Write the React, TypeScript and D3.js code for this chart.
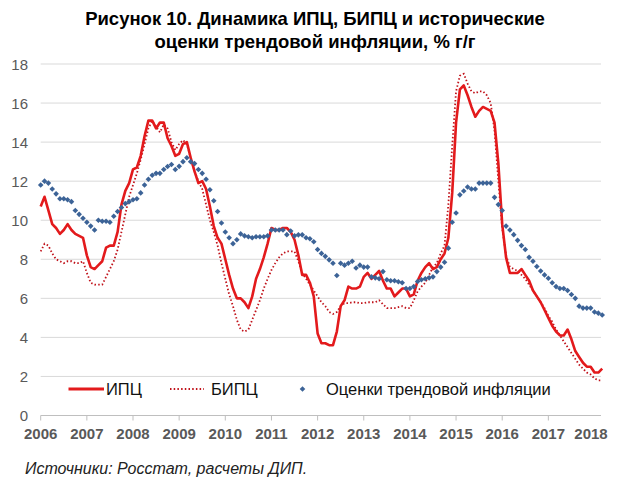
import React from "react";
import * as d3 from "d3";

const years = ["2006","2007","2008","2009","2010","2011","2012","2013","2014","2015","2016","2017","2018"];
const yTicks = [0, 2, 4, 6, 8, 10, 12, 14, 16, 18];

// Monthly values, Jan 2006 .. Mar 2018
const cpi = [
  10.7, 11.2, 10.5, 9.8, 9.6, 9.3, 9.5, 9.8, 9.5, 9.3, 9.2, 9.1,
  8.2, 7.6, 7.5, 7.7, 7.9, 8.6, 8.7, 8.7, 9.4, 10.8, 11.5, 11.9,
  12.6, 12.7, 13.3, 14.3, 15.1, 15.1, 14.7, 15.0, 15.0, 14.2, 13.8, 13.3,
  13.4, 13.9, 14.0, 13.2, 12.5, 11.9, 12.0, 11.6, 10.7, 9.7, 9.1, 8.8,
  8.0, 7.2, 6.5, 6.0, 6.0, 5.8, 5.5, 6.1, 7.0, 7.5, 8.1, 8.8,
  9.6, 9.5, 9.5, 9.6, 9.6, 9.4, 9.0, 8.2, 7.2, 7.2, 6.8, 6.1,
  4.2, 3.7, 3.7, 3.6, 3.6, 4.3, 5.6, 5.9, 6.6, 6.5, 6.5, 6.6,
  7.1, 7.3, 7.0, 7.2, 7.4, 6.9, 6.5, 6.5, 6.1, 6.3, 6.5, 6.5,
  6.1, 6.2, 6.9, 7.3, 7.6, 7.8, 7.5, 7.6, 8.0, 8.3, 9.1, 11.4,
  15.0, 16.7, 16.9, 16.4, 15.8, 15.3, 15.6, 15.8, 15.7, 15.6, 15.0, 12.9,
  9.8, 8.1, 7.3, 7.3, 7.3, 7.5, 7.2, 6.9, 6.4, 6.1, 5.8, 5.4,
  5.0, 4.6, 4.3, 4.1, 4.1, 4.4, 3.9, 3.3, 3.0, 2.7, 2.5, 2.5,
  2.2, 2.2, 2.4,
];

const coreCpi = [
  8.4, 8.8, 8.7, 8.3, 8.0, 7.9, 7.8, 7.9, 7.9, 7.8, 7.8, 7.9,
  7.3, 6.8, 6.7, 6.7, 6.7, 7.1, 7.5, 7.9, 8.5, 9.4, 10.3, 11.2,
  11.8, 12.4, 13.1, 13.9, 14.7, 15.1, 14.8, 14.5, 14.9, 14.7, 14.0, 13.6,
  13.9, 14.1, 13.9, 13.2, 12.5, 12.0, 11.6, 10.8, 10.0, 9.4, 8.7, 7.8,
  7.0, 6.2, 5.6, 4.9, 4.4, 4.3, 4.4, 4.9, 5.4, 5.9, 6.5, 7.0,
  7.45, 7.8, 8.1, 8.3, 8.4, 8.4, 8.4, 7.9, 7.3, 7.0, 6.7, 6.4,
  6.1, 5.8, 5.6, 5.3, 5.2, 5.3, 5.6, 5.75, 5.75, 5.8, 5.8, 5.75,
  5.75, 5.8, 5.8, 5.8, 5.9, 5.7, 5.5, 5.5, 5.5, 5.55, 5.6, 5.5,
  5.5, 5.9, 6.35, 6.6, 6.8, 7.2, 7.6, 7.8, 8.3, 8.7, 10.8, 13.8,
  16.6, 17.4, 17.5, 17.0, 16.6, 16.5, 16.6, 16.6, 16.4, 16.0, 14.6, 12.0,
  9.6, 8.2, 7.6, 7.5, 7.4, 7.2, 7.0, 6.7, 6.4, 6.1, 5.8, 5.5,
  5.1, 4.8, 4.4, 4.1, 3.8, 3.5, 3.2, 2.9, 2.6, 2.4, 2.2, 2.1,
  1.9, 1.8, 1.8,
];

const trend = [
  11.8, 12.0, 11.9, 11.6, 11.35, 11.1, 11.1, 11.05, 10.95, 10.5, 10.3, 10.1,
  9.9, 9.7, 9.5, 10.0, 9.95, 9.95, 9.9, 10.2, 10.45, 10.65, 10.85, 10.95,
  11.05, 11.1, 11.4, 11.8, 12.1, 12.3, 12.4, 12.4, 12.6, 12.75, 12.85, 12.6,
  12.76, 13.0, 13.2, 13.0, 12.9, 12.6, 12.4, 12.1, 11.56, 11.0, 10.45, 9.86,
  9.4, 9.1, 8.8, 9.0, 9.3, 9.2, 9.15, 9.1, 9.15, 9.15, 9.15, 9.2,
  9.5, 9.5, 9.5, 9.5, 9.26, 9.45, 9.2, 9.25, 9.25, 9.1, 9.05, 8.9,
  8.5, 8.3, 8.15, 7.97, 7.8, 7.17, 7.8, 7.7, 7.8, 7.9, 7.55, 7.7,
  7.6, 7.6, 7.1, 7.05, 7.0, 7.37, 6.95, 6.9, 6.9, 6.85, 6.8, 6.5,
  6.5, 6.6, 6.86, 6.95, 7.0, 7.05, 7.1, 7.37, 7.6, 7.85, 8.57, 9.9,
  10.37, 11.3, 11.5, 11.7, 11.6, 11.6, 11.9, 11.9, 11.9, 11.9, 11.17, 10.8,
  10.5, 9.7, 9.5, 9.26, 8.97, 8.7, 8.5, 8.1, 7.9, 7.63, 7.4, 7.2,
  7.03, 6.8, 6.6, 6.5, 6.5, 6.4, 6.2, 6.0, 5.6, 5.5, 5.5, 5.5,
  5.3, 5.24, 5.15,
];

const titleLines = ["Рисунок 10. Динамика ИПЦ, БИПЦ и исторические", "оценки трендовой инфляции, % г/г"];
const legendLabels = ["ИПЦ", "БИПЦ", "Оценки трендовой инфляции"];
const sourceText = "Источники: Росстат, расчеты ДИП.";

const W = 617, H = 484;
const FONT = "'Liberation Sans', Arial, sans-serif";

export default function App() {
  const x = d3.scaleLinear().domain([0, cpi.length - 1]).range([40.7, 602.2]);
  const y = d3.scaleLinear().domain([0, 18]).range([415.5, 64]);
  const line = d3.line<number>().x((_, i) => x(i)).y((d) => y(d));
  const diamond = "M0,-2.8L2.8,0L0,2.8L-2.8,0Z";
  const red = "#e31a1c";
  const darkRed = "#c0121a";
  const blue = "#3c6397";
  const gray = "#595959";
  const legY = 389;

  return (
    <svg width={W} height={H} style={{ position: "fixed", left: 0, top: 0, background: "#fff" }} fontFamily={FONT}>
      <rect width={W} height={H} fill="#fff" />
      {titleLines.map((t, i) => (
        <text key={i} x={315} y={24.5 + i * 23.5} textAnchor="middle" fontSize={18.5} fontWeight="bold" fill="#000">{t}</text>
      ))}
      {yTicks.filter((v) => v > 0).map((v) => (
        <line key={v} x1={40.7} x2={601} y1={y(v)} y2={y(v)} stroke="#d9d9d9" strokeWidth={1} />
      ))}
      <line x1={40.7} x2={601} y1={y(0)} y2={y(0)} stroke="#bfbfbf" strokeWidth={1} />
      {years.slice(0, 12).map((yr, k) => (
        <line key={yr} x1={x(12 * k)} x2={x(12 * k)} y1={y(0)} y2={y(0) + 5} stroke="#bfbfbf" />
      ))}
      {yTicks.map((v) => (
        <text key={v} x={28} y={y(v) + 5.5} textAnchor="end" fontSize={15} fill={gray}>{v}</text>
      ))}
      {years.map((yr, k) => (
        <text key={yr} x={Math.min(x(12 * k), 591)} y={439} textAnchor="middle" fontSize={15} fontWeight="bold" fill={gray}>{yr}</text>
      ))}
      <path d={line(coreCpi) || ""} fill="none" stroke={darkRed} strokeWidth={1.8} strokeDasharray="1.5 2.2" />
      <path d={line(cpi) || ""} fill="none" stroke={red} strokeWidth={2.6} strokeLinejoin="round" />
      {trend.map((v, i) => (
        <path key={i} d={diamond} transform={`translate(${x(i)},${y(v)})`} fill={blue} />
      ))}
      <line x1={68.5} x2={104} y1={legY} y2={legY} stroke={red} strokeWidth={3.2} />
      <text x={106} y={legY + 6} fontSize={16.5} fill="#111">{legendLabels[0]}</text>
      <line x1={170} x2={204} y1={legY} y2={legY} stroke={darkRed} strokeWidth={1.8} strokeDasharray="1.5 2.2" />
      <text x={211} y={legY + 6} fontSize={16.5} fill="#111">{legendLabels[1]}</text>
      <path d={diamond} transform={`translate(302.5,${legY})`} fill={blue} />
      <text x={326} y={legY + 6} fontSize={16.5} fill="#111">{legendLabels[2]}</text>
      <text x={25} y={474} fontSize={16} fontStyle="italic" fill="#222">{sourceText}</text>
    </svg>
  );
}
